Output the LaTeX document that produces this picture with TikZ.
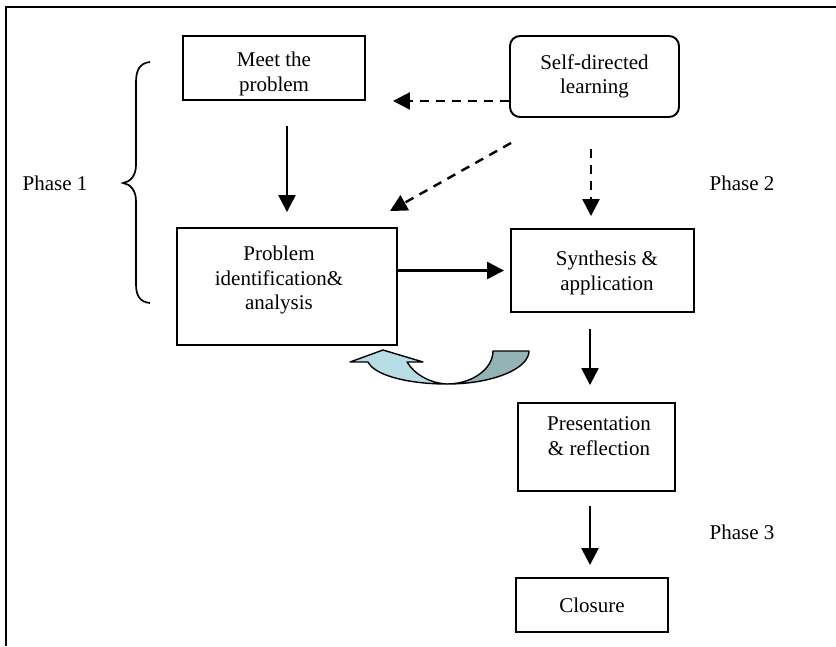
\documentclass[tikz,border=0pt]{standalone}
\usepackage{fontspec}
\setmainfont{Liberation Serif}
\usetikzlibrary{arrows.meta,calc}
\definecolor{uturnlight}{RGB}{183,222,228}
\definecolor{uturndark}{RGB}{147,179,182}
\begin{document}
\begin{tikzpicture}[x=1pt,y=-1pt,
  every node/.style={font=\fontsize{21}{24.5}\selectfont},
  box/.style={draw, line width=1.9pt, inner sep=0pt, align=center},
  txt/.style={inner sep=0pt, align=center},
  arr/.style={line width=2.4pt, -{Triangle[width=17pt,length=17pt]}},
  darr/.style={arr, dash pattern=on 9pt off 7pt},
  uturn/.style={draw, line width=1.4pt, line join=round},
]
\useasboundingbox (0,0) rectangle (836,646);
\coordinate (fTL) at (6,7);
\coordinate (fTR) at (836,7);
\coordinate (fBL) at (6,646);
\draw[line width=2.2pt] (fBL) -- (fTL) -- (fTR);

\node[box, minimum width=182, minimum height=64] (meet) at (274,68) {};
\node[txt] (meett) at (274,74) {Meet the\\problem};
\node[box, rounded corners=10pt, minimum width=169, minimum height=81] (sdl) at (594.5,76.5) {Self-directed\\learning};
\node[box, minimum width=220, minimum height=117] (prob) at (287,286.5) {};
\node[txt] (probt) at (279,280) {Problem\\identification\&\\analysis};
\node[box, minimum width=183, minimum height=83] (synth) at (602.5,270.5) {};
\node[txt] (syntht) at (607,273) {Synthesis \&\\application};
\node[box, minimum width=157, minimum height=88] (pres) at (596.5,447) {};
\node[txt] (prest) at (599,436) {Presentation\\\& reflection};
\node[box, minimum width=152, minimum height=54] (clos) at (592,605) {Closure};
\node[txt] (ph1) at (55,183) {Phase 1};
\node[txt] (ph2) at (742,183) {Phase 2};
\node[txt] (ph3) at (742,532) {Phase 3};

\coordinate (ax) at (590,0);
\coordinate (ax2) at (591,0);
\draw[arr, shorten <=25pt, shorten >=15pt] (meet.south -| prob.north) -- (prob.north);
\draw[darr, shorten >=27pt] (sdl.west |- meet.south east) -- (meet.south east);
\draw[darr] ($(sdl.south west)+(2,25)$) -- ($(prob.north east)+(-8,-16)$);
\draw[darr, shorten <=31pt, shorten >=12pt] (sdl.south -| ax2) -- (synth.north -| ax2);
\draw[arr, shorten >=6pt] (prob.east |- synth.west) -- (synth.west);
\draw[arr, shorten <=16pt, shorten >=17pt] (synth.south -| ax) -- (pres.north -| ax);
\draw[arr, shorten <=14pt, shorten >=12pt] (pres.south -| ax) -- (clos.north -| ax);

% brace
\draw[line width=1.7pt] (150,62) .. controls (140,63) and (136,70) .. (136,82) -- (136,165)
  .. controls (136,176) and (130,182) .. (123,183)
  .. controls (130,184) and (136,190) .. (136,201) -- (136,284)
  .. controls (136,296) and (140,302) .. (150,303);

% U-turn arrow
\path[uturn, fill=uturnlight] (447,384) .. controls (410,384) and (375,376) .. (368,362)
  -- (350,362) -- (383,350) -- (423,362) -- (407,362)
  .. controls (415,375) and (430,383) .. (447,384) -- cycle;
\path[uturn, fill=uturndark] (529,351) .. controls (529,369) and (492,384) .. (447,384)
  .. controls (472,384) and (493,369) .. (493,351) -- cycle;
\end{tikzpicture}
\end{document}
